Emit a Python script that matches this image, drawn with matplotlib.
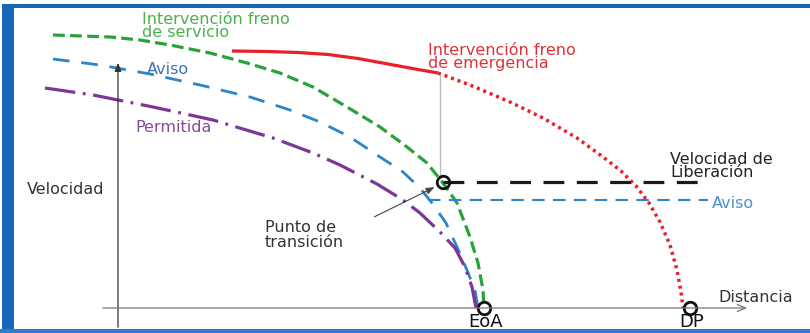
import matplotlib
matplotlib.use("Agg")
import matplotlib.pyplot as plt
from matplotlib.patches import Rectangle

# curve points: (distance, speed) in arbitrary units
servicio_d = [-65, -8, 22, 52, 92, 129, 162, 195, 229, 262, 289, 309, 325, 339, 352, 360, 365, 366]
servicio_v = [273, 271, 268, 263, 255, 245, 235, 221, 201, 181, 161, 145, 125, 105, 71, 45, 18, 0]

aviso_d = [-65, -18, 32, 82, 132, 172, 202, 232, 262, 285, 302, 314, 328, 344, 357, 360]
aviso_v = [249, 243, 234, 223, 211, 198, 186, 171, 151, 136, 120, 105, 85, 50, 18, 0]

permitida_d = [-73, -25, 35, 95, 155, 195, 222, 259, 285, 302, 322, 337, 347, 354, 358]
permitida_v = [220, 213, 201, 188, 170, 155, 143, 124, 108, 95, 76, 60, 41, 21, 0]

emerg_solid_d = [114, 150, 180, 210, 240, 270, 300, 320]
emerg_solid_v = [257, 256.5, 255.5, 253.5, 249.5, 244, 238.5, 235]
emerg_dot_d = [320, 352, 392, 425, 459, 485, 503, 518, 531, 542, 552, 559, 563, 565]
emerg_dot_v = [235, 223, 206, 190, 170, 151, 137, 122, 105, 86, 63, 38, 16, 0]

v_liberacion = 126
liberacion_span = (325, 585)
v_aviso = 108
aviso_span = (310, 590)
transicion = (325, 126)
eoa = 366
dp = 572

GREEN = "#27a33a"
BLUE = "#2a86cc"
PURPLE = "#7d3596"
RED = "#e8202a"

plt.rcParams["font.family"] = ["DejaVu Sans"]
plt.rcParams["lines.scale_dashes"] = False

fig = plt.figure(figsize=(8.1, 3.33), dpi=100)
ax = fig.add_axes([0, 0, 1, 1])
ax.set_xlim(-118, 692)
ax.set_ylim(-25, 308)
ax.axis("off")

# frame
fig.add_artist(Rectangle((2 / 810, 0), 12 / 810, 1 - 4 / 333, transform=fig.transFigure, color="#1766b8", lw=0))
fig.add_artist(Rectangle((2 / 810, 1 - 8 / 333), 1, 4 / 333, transform=fig.transFigure, color="#1766b8", lw=0))
fig.add_artist(Rectangle((0, 0), 1, 4 / 333, transform=fig.transFigure, color="#2a7fcc", lw=0))

# axes arrows
ax.annotate("", xy=(0, 248), xytext=(0, -22),
            arrowprops=dict(arrowstyle="-|>,head_length=0.5,head_width=0.2", color="#333333", lw=0.9))
ax.annotate("", xy=(632, 0), xytext=(-18, 0),
            arrowprops=dict(arrowstyle="->,head_length=0.6,head_width=0.25", color="#777777", lw=0.9))

# curves
ax.plot(servicio_d, servicio_v, color=GREEN, lw=2.3, linestyle=(0, (8.5, 3.8)))
ax.plot(aviso_d, aviso_v, color=BLUE, lw=2.0, linestyle=(0, (12, 8.5)))
ax.plot(permitida_d, permitida_v, color=PURPLE, lw=2.3, linestyle=(0, (22, 5.5, 2, 5.5)))
ax.plot(emerg_solid_d, emerg_solid_v, color=RED, lw=2.3, solid_capstyle="butt", solid_joinstyle="round")
ax.plot(emerg_dot_d, emerg_dot_v, color=RED, lw=2.5, linestyle=(0, (2.2, 2.8)))

ax.plot(liberacion_span, [v_liberacion] * 2, color="#1a1a1a", lw=2.3, linestyle=(0, (15, 9)))
ax.plot(aviso_span, [v_aviso] * 2, color=BLUE, lw=1.5, linestyle=(0, (9, 6)))

# grey drop line from emergency transition to release point
ax.plot([322, 322], [233, 130], color="#bbbbbb", lw=1)

# points
ax.plot(*transicion, marker="o", ms=9, mfc="none", mec="#111111", mew=2)
ax.plot(eoa, 0, marker="o", ms=9, mfc="white", mec="#111111", mew=2)
ax.plot(dp, 0, marker="o", ms=9, mfc="white", mec="#111111", mew=2)

ax.annotate("", xy=(319, 122), xytext=(254, 90),
            arrowprops=dict(arrowstyle="-|>,head_length=0.5,head_width=0.2", color="#444444", lw=0.8))

fs = 11.5
ls = 0.85
ax.text(24, 282, "Intervención freno\nde servicio", color="#4caf50", fontsize=fs, ha="left", va="center", linespacing=ls)
ax.text(29, 239, "Aviso", color="#3c74b8", fontsize=fs, ha="left", va="center")
ax.text(17, 181, "Permitida", color="#8a4a9c", fontsize=fs, ha="left", va="center")
ax.text(310, 251, "Intervención freno\nde emergencia", color="#e0303a", fontsize=fs, ha="left", va="center", linespacing=0.8)
ax.text(552, 142, "Velocidad de\nLiberación", color="#222222", fontsize=fs, ha="left", va="center", linespacing=ls)
ax.text(594, 105, "Aviso", color="#4a90d0", fontsize=fs, ha="left", va="center")
ax.text(-91, 119, "Velocidad", color="#333333", fontsize=fs, ha="left", va="center")
ax.text(147, 73, "Punto de\ntransición", color="#333333", fontsize=fs, ha="left", va="center", linespacing=0.92)
ax.text(600, 10, "Distancia", color="#333333", fontsize=fs, ha="left", va="center")
ax.text(eoa + 2, -14, "EoA", color="#111111", fontsize=13, ha="center", va="center")
ax.text(dp + 2, -14, "DP", color="#111111", fontsize=13, ha="center", va="center")

fig.savefig("out.png", dpi=100)
